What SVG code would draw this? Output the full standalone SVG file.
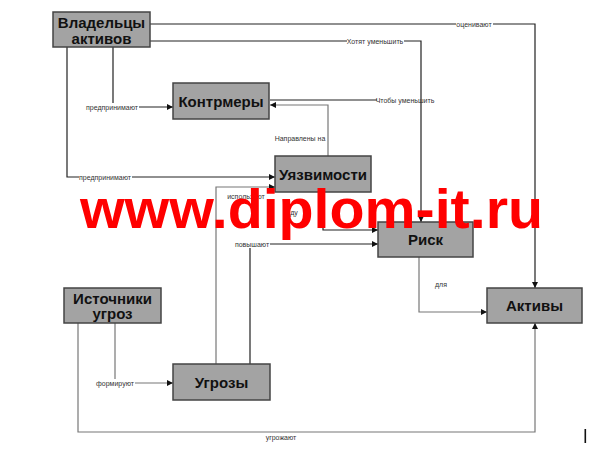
<svg xmlns="http://www.w3.org/2000/svg" width="603" height="460" viewBox="0 0 603 460">
<style>
.node rect{fill:#a3a3a3;stroke:#444;stroke-width:1.5}
.node text{font-family:"Liberation Sans",Arial,sans-serif;font-weight:bold;font-size:15px;fill:#111;text-anchor:middle}
.c{fill:none;stroke:#222;stroke-width:1.2}
.g{stroke:#777}
.lb{font-family:"Liberation Sans",Arial,sans-serif;font-size:7px;fill:#333;text-anchor:middle}
.bg{fill:#fff}
.wm{font-family:"Liberation Sans",Arial,sans-serif;font-weight:bold;font-size:56px;fill:#f00}
</style>
<defs>
<marker id="a" viewBox="0 0 8 8" refX="8" refY="4" markerWidth="6" markerHeight="6" markerUnits="userSpaceOnUse" orient="auto">
<path d="M0,0 L8,4 L0,8 Z" fill="#111"/>
</marker>
</defs>
<rect width="603" height="460" fill="#fff"/>
<g id="connectors">
<path class="c" d="M150,24 H535 V288" marker-end="url(#a)"/>
<path class="c" d="M150,41 H421 V222" marker-end="url(#a)"/>
<path class="c" d="M113,47 V107 H173" marker-end="url(#a)"/>
<path class="c" d="M67,47 V177 H275" marker-end="url(#a)"/>
<path class="c" d="M270,100 H377"/>
<path class="c g" d="M328,156 V105 H270" marker-end="url(#a)"/>
<path class="c g" d="M216,364 V187 H275" marker-end="url(#a)"/>
<path class="c" d="M323,192 V230 H378" marker-end="url(#a)"/>
<path class="c" d="M250,364 V244 H378" marker-end="url(#a)"/>
<path class="c g" d="M419,257 V312 H487" marker-end="url(#a)"/>
<path class="c g" d="M115,323 V383 H173" marker-end="url(#a)"/>
<path class="c g" d="M78,323 V432 H535 V323" marker-end="url(#a)"/>
<rect class="bg" x="456" y="20" width="37" height="8"/>
<text class="lb" x="474" y="26.5">оценивают</text>
<rect class="bg" x="347" y="37" width="57" height="8"/>
<text class="lb" x="375" y="43.5">Хотят уменьшить</text>
<rect class="bg" x="86" y="103" width="53" height="8"/>
<text class="lb" x="112" y="109.5">предпринимают</text>
<rect class="bg" x="79" y="173" width="53" height="8"/>
<text class="lb" x="105" y="179.5">предпринимают</text>
<text class="lb" x="405" y="102.5">Чтобы уменьшить</text>
<text class="lb" x="300" y="140.5">Направлены на</text>
<text class="lb" x="246" y="198.5">используют</text>
<text class="lb" x="294" y="214.5">ду</text>
<rect class="bg" x="235" y="240" width="35" height="8"/>
<text class="lb" x="252" y="246.5">повышают</text>
<text class="lb" x="441" y="286.5">для</text>
<rect class="bg" x="96" y="379" width="39" height="8"/>
<text class="lb" x="115" y="385.5">формируют</text>
<text class="lb" x="281" y="439.5">угрожают</text>
</g>
<g id="owners" class="node"><rect x="53" y="12" width="97" height="35"/><text x="101.5" y="28">Владельцы</text><text x="101.5" y="43.5">активов</text></g>
<g id="countermeasures" class="node"><rect x="173" y="83" width="96" height="36"/><text x="221" y="106.5">Контрмеры</text></g>
<g id="vulnerabilities" class="node"><rect x="275" y="156" width="96" height="36"/><text x="323" y="179.5">Уязвимости</text></g>
<g id="risk" class="node"><rect x="378" y="222" width="95" height="35"/><text x="425.5" y="245">Риск</text></g>
<g id="assets" class="node"><rect x="487" y="288" width="95" height="35"/><text x="534.5" y="311">Активы</text></g>
<g id="sources" class="node"><rect x="64" y="288" width="97" height="35"/><text x="112.5" y="303.5">Источники</text><text x="112.5" y="319">угроз</text></g>
<g id="threats" class="node"><rect x="173" y="364" width="97" height="36"/><text x="221.5" y="387.5">Угрозы</text></g>
<rect x="584.5" y="429" width="1.6" height="14" fill="#111"/>
<text class="wm" x="80" y="228" textLength="463" lengthAdjust="spacingAndGlyphs">www.diplom-it.ru</text>
</svg>
